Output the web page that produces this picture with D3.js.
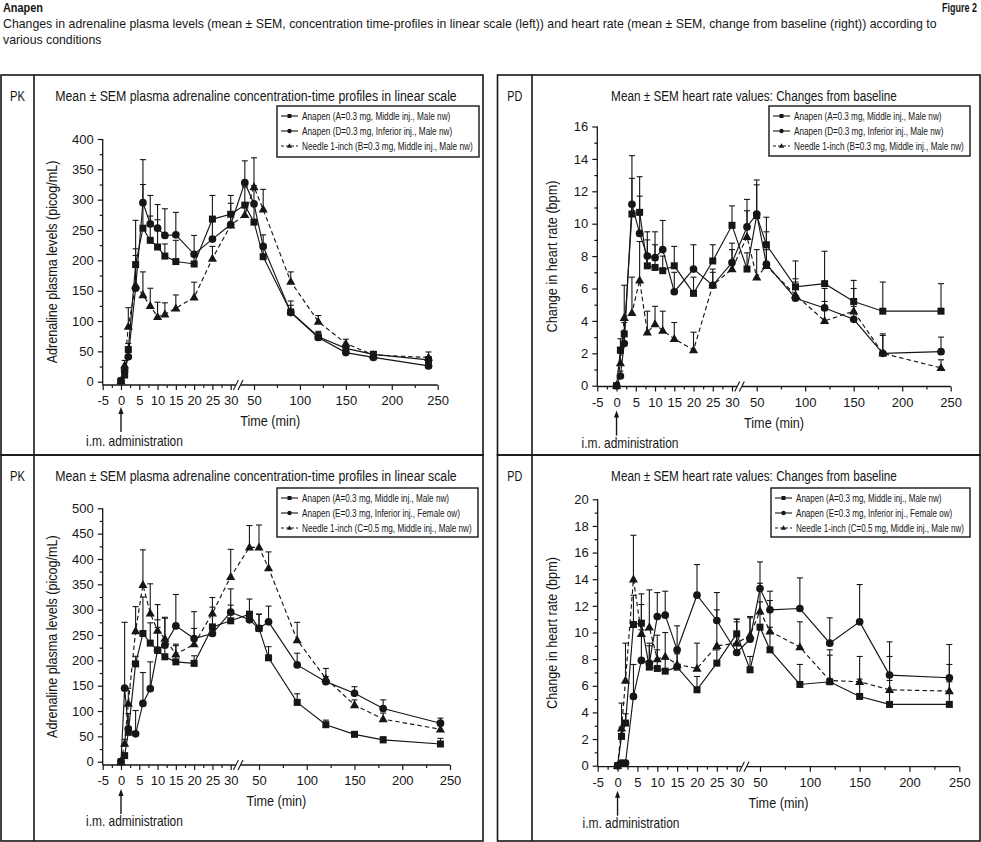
<!DOCTYPE html>
<html><head><meta charset="utf-8">
<script src="https://cdn.jsdelivr.net/npm/d3@7"></script>
<style>
body{margin:0;background:#fff;}
svg{display:block;}
</style></head><body>
<svg id="c" width="981" height="842"></svg>
<script>
// ---------------- data ----------------
const times = [0,1,2,4,6,8,10,12,15,20,25,30,40,50,60,90,120,150,180,240];
const xTicksLeft = [-5,0,5,10,15,20,25,30];
const xMinorLeft = [-2.5,2.5,7.5,12.5,17.5,22.5,27.5];
const xTicksRight = [50,100,150,200,250];
const xMinorRight = [75,125,175,225];
const pkTicksTop = [0,50,100,150,200,250,300,350,400];
const pkTicksBottom = [0,50,100,150,200,250,300,350,400,450,500];
const hrTicksTop = [0,2,4,6,8,10,12,14,16];
const hrTicksBottom = [0,2,4,6,8,10,12,14,16,18,20];

// top-left: PK, groups A / D / B
const pkA = [1,11,53,193,253,233,222,207,198,194,268,276,291,263,206,115,74,55,45,36];
const pkA_sem = [1,3,10,15,72,40,45,20,35,15,39,31,30,28,20,18,9,6,5,5];
const pkD = [2,18,41,154,295,260,253,241,242,210,235,259,328,293,223,114,73,48,40,26];
const pkD_sem = [1,5,8,112,71,47,39,44,37,31,30,35,36,30,19,12,8,6,5,5];
const pkB = [1,27,91,159,143,125,107,111,121,139,203,258,275,321,284,165,99,63,44,40];
const pkB_sem = [1,8,31,60,38,29,24,19,22,25,20,20,20,48,33,16,10,7,5,9];

// top-right: heart rate, groups A / D / B
const hrA = [0,2.2,3.2,10.6,10.7,7.4,7.3,7.1,7.4,5.7,7.7,9.9,7.2,10.5,8.7,6.1,6.3,5.2,4.6,4.6];
const hrA_sem = [0,0.7,0.7,2.2,2.2,1.6,1.4,0.9,1.2,1.0,1.0,1.2,1.0,1.9,1.7,1.6,2.0,1.3,1.8,1.7];
const hrD = [0,0.6,2.6,11.2,9.4,8.0,7.9,8.4,5.8,7.2,6.2,7.6,9.8,10.6,7.5,5.4,4.8,4.1,2.0,2.1];
const hrD_sem = [0,0.3,0.6,3.0,2.3,1.5,1.6,1.8,1.2,1.5,1.0,1.2,1.7,2.1,2.0,1.0,1.2,0.8,1.2,0.9];
const hrB = [0,1.4,4.2,4.5,6.5,3.3,3.8,3.4,2.9,2.2,6.2,7.2,9.2,6.7,7.4,5.6,4.0,4.6,2.0,1.1];
const hrB_sem = [0,0.6,2.0,2.2,2.4,1.3,1.1,1.2,1.0,1.1,0.8,1.2,1.6,1.7,1.0,1.0,1.2,1.4,1.1,0.5];

// bottom-left: PK, groups A / E / C
const pk2A = [0,12,58,193,253,234,220,207,197,194,266,278,291,263,205,117,73,54,43,35];
const pk2A_sem = [0,4,10,15,72,40,45,20,35,15,39,31,30,28,22,17,9,5,6,11];
const pk2E = [0,145,65,55,115,144,220,230,268,243,253,295,280,263,276,191,158,135,105,76];
const pk2E_sem = [0,130,30,46,61,53,60,55,62,53,10,46,15,28,31,23,10,13,17,10];
const pk2C = [0,36,115,258,349,293,259,243,212,232,293,365,423,423,382,240,164,112,84,64];
const pk2C_sem = [0,8,30,48,69,58,51,40,17,31,31,54,43,44,32,35,20,10,12,8];

// bottom-right: heart rate, groups A / E / C
const hr2A = [0,2.2,3.2,10.6,10.7,7.4,7.3,7.1,7.4,5.7,7.7,9.9,7.2,10.4,8.7,6.1,6.3,5.2,4.6,4.6];
const hr2A_sem = [0,0.7,0.7,2.2,2.2,1.6,1.4,0.9,1.2,1.0,1.0,1.1,1.0,1.9,1.7,1.5,2.0,1.3,1.8,1.7];
const hr2E = [0,0.2,0.2,5.2,7.9,7.7,11.2,11.3,8.7,12.8,10.9,8.5,9.5,13.3,11.7,11.8,9.2,10.8,6.8,6.6];
const hr2E_sem = [0,0.2,0.2,2.4,2.3,1.5,1.8,1.8,1.8,2.3,2.1,2.5,1.6,2.0,1.4,2.3,1.9,2.8,2.5,2.5];
const hr2C = [0,2.8,6.4,14.0,9.9,10.4,8.0,8.2,7.6,7.3,9.0,9.2,9.8,11.6,10.1,8.9,6.4,6.3,5.7,5.6];
const hr2C_sem = [0,1.9,2.8,3.3,2.2,2.8,1.8,1.8,0.8,1.9,2.7,1.6,1.4,2.1,2.3,1.9,2.3,1.9,2.5,2.0];

const legendTop = ["Anapen (A=0.3 mg, Middle inj., Male nw)","Anapen (D=0.3 mg, Inferior inj., Male nw)","Needle 1-inch (B=0.3 mg, Middle inj., Male nw)"];
const legendBottom = ["Anapen (A=0.3 mg, Middle inj., Male nw)","Anapen (E=0.3 mg, Inferior inj., Female ow)","Needle 1-inch (C=0.5 mg, Middle inj., Male nw)"];

const headerTitle = "Anapen";
const headerFig = "Figure 2";
const headerLine1 = "Changes in adrenaline plasma levels (mean \u00b1 SEM, concentration time-profiles in linear scale (left)) and heart rate (mean \u00b1 SEM, change from baseline (right)) according to";
const headerLine2 = "various conditions";
const pkTitle = "Mean \u00b1 SEM plasma adrenaline concentration-time profiles in linear scale";
const pdTitle = "Mean \u00b1 SEM heart rate values: Changes from baseline";
const pkYLabel = "Adrenaline plasma levels (picog/mL)";
const pdYLabel = "Change in heart rate (bpm)";
const xLabel = "Time (min)";
const arrowLabel = "i.m. administration";

// ---------------- drawing ----------------
const INK = "#161616";
const FONT = "'Liberation Sans',Arial,sans-serif";
const svg = d3.select("#c");

// text drawn inside a group that is squeezed horizontally (condensed typeface look)
// w: target width (px) or null; sx: explicit squeeze factor
function ctext(parent, x, y, size, str, opts){
  opts = opts || {};
  const g = parent.append("g");
  const t = g.append("text").attr("x",0).attr("y",0).attr("font-family",FONT).attr("font-size",size)
    .attr("fill",INK).attr("text-anchor",opts.anchor || "start").text(str);
  if (opts.bold) t.attr("font-weight","bold");
  if (opts.dy) t.attr("dy",opts.dy);
  const nat = t.node().getComputedTextLength();
  const sx = opts.sx != null ? opts.sx : (opts.w ? opts.w / nat : 1);
  g.attr("transform",`translate(${x},${y})${opts.rot ? ` rotate(${opts.rot})` : ""} scale(${sx},1)`);
  return {g, t, nat, sx};
}
function natWidth(parent, size, str, bold){
  const t = parent.append("text").attr("font-family",FONT).attr("font-size",size).text(str);
  if (bold) t.attr("font-weight","bold");
  const w = t.node().getComputedTextLength();
  t.remove();
  return w;
}

// header
ctext(svg, 3, 12, 13, headerTitle, {bold:true, w:40});
ctext(svg, 977, 12, 13, headerFig, {bold:true, w:35, anchor:"end"});
const hl = ctext(svg, 3, 28, 13.5, headerLine1, {w:934});
ctext(svg, 3, 44, 13.5, headerLine2, {sx:hl.sx});

function marker(g, shape, cx, cy, s){
  if (shape === "square"){
    g.append("rect").attr("x",cx-s/2).attr("y",cy-s/2).attr("width",s).attr("height",s).attr("fill",INK);
  } else if (shape === "circle"){
    g.append("circle").attr("cx",cx).attr("cy",cy).attr("r",s*0.55).attr("fill",INK);
  } else {
    const w = s*1.3, h = s*1.15;
    g.append("path").attr("d",`M${cx},${cy-h*0.6}L${cx+w/2},${cy+h*0.4}L${cx-w/2},${cy+h*0.4}Z`).attr("fill",INK);
  }
}

function drawPanel(p){
  const g = svg.append("g");
  const [bx0,by0,bx1,by1] = p.box;
  g.append("rect").attr("x",bx0).attr("y",by0).attr("width",bx1-bx0).attr("height",by1-by0)
    .attr("fill","none").attr("stroke",INK).attr("stroke-width",1.6);
  g.append("line").attr("x1",p.div).attr("x2",p.div).attr("y1",by0).attr("y2",by1)
    .attr("stroke",INK).attr("stroke-width",1.6);
  ctext(g, (bx0+p.div)/2, by0+26, 14, p.tag, {anchor:"middle", w:15});
  ctext(g, p.titleX, by0+26, 14.5, p.title, {anchor:"middle", w:p.titleW});

  // scales
  const xL = d3.scaleLinear().domain([-5,30]).range([p.xm5,p.x30]);
  const xR = d3.scaleLinear().domain([50,250]).range([p.x50,p.x250]);
  const x = t => t <= 35 ? xL(t) : xR(t);
  const y = d3.scaleLinear().domain([0,p.yMax]).range([p.y0,p.yTop]);
  const ax = p.xm5, ay = p.axisY;
  const fmt = d => String(d);

  // x axis
  const axG = g.append("g");
  axG.append("line").attr("x1",ax).attr("x2",p.x250).attr("y1",ay).attr("y2",ay).attr("stroke",INK).attr("stroke-width",1.3);
  const xa1 = axG.append("g").attr("transform",`translate(0,${ay})`)
    .call(d3.axisBottom(xL).tickValues(xTicksLeft).tickFormat(fmt).tickSize(5).tickSizeOuter(0).tickPadding(3));
  const xa2 = axG.append("g").attr("transform",`translate(0,${ay})`)
    .call(d3.axisBottom(xR).tickValues(xTicksRight).tickFormat(fmt).tickSize(5).tickSizeOuter(0).tickPadding(3));
  axG.append("g").attr("transform",`translate(0,${ay})`)
    .call(d3.axisBottom(xL).tickValues(xMinorLeft).tickSize(3).tickSizeOuter(0).tickFormat(""));
  axG.append("g").attr("transform",`translate(0,${ay})`)
    .call(d3.axisBottom(xR).tickValues(xMinorRight).tickSize(3).tickSizeOuter(0).tickFormat(""));
  // y axis
  axG.append("line").attr("x1",ax).attr("x2",ax).attr("y1",y(p.yMax)).attr("y2",ay).attr("stroke",INK).attr("stroke-width",1.3);
  axG.append("g").attr("transform",`translate(${ax},0)`)
    .call(d3.axisLeft(y).tickValues(p.yTicks).tickFormat(fmt).tickSize(5).tickSizeOuter(0).tickPadding(4));
  axG.append("g").attr("transform",`translate(${ax},0)`)
    .call(d3.axisLeft(y).tickValues(p.yMinor).tickSize(3).tickSizeOuter(0).tickFormat(""));
  axG.selectAll(".domain").remove();
  axG.selectAll(".tick line").attr("stroke",INK).attr("stroke-width",1.2);
  axG.selectAll(".tick text").attr("font-family",FONT).attr("font-size",13).attr("fill",INK);
  xa1.selectAll(".tick text").attr("dy","0.95em");
  xa2.selectAll(".tick text").attr("dy","0.95em");
  // axis break
  const bx = p.x30 + 7.5;
  axG.append("rect").attr("x",bx-2.5).attr("y",ay-2).attr("width",5).attr("height",4).attr("fill","#fff");
  [-2.3, 2.3].forEach(d => {
    axG.append("line").attr("x1",bx+d-2.5).attr("y1",ay+5).attr("x2",bx+d+2.5).attr("y2",ay-5)
      .attr("stroke",INK).attr("stroke-width",1.1);
  });

  // axis titles
  ctext(g, (ax+p.x250)/2, ay+41, 14, xLabel, {anchor:"middle", w:60});
  const ymid = (y(p.yMax)+ay)/2;
  ctext(g, p.ylabX, ymid, 14, p.ylab, {anchor:"middle", w:p.ylabW, rot:-90, dy:"0.35em"});

  // arrow for i.m. administration
  const x0 = xL(0);
  g.append("line").attr("x1",x0).attr("x2",x0).attr("y1",ay+p.arrowTop+5).attr("y2",ay+p.arrowTop+25)
    .attr("stroke",INK).attr("stroke-width",1.4);
  g.append("path").attr("d",`M${x0},${ay+p.arrowTop}L${x0+2.6},${ay+p.arrowTop+7}L${x0-2.6},${ay+p.arrowTop+7}Z`).attr("fill",INK);
  ctext(g, x0-35, ay+61, 14, arrowLabel, {w:97});

  // series
  const line = d3.line().x((d,i) => x(times[i])).y(d => y(d));
  const sG = g.append("g");
  p.series.forEach(s => {
    sG.append("path").datum(s.vals).attr("d",line).attr("fill","none").attr("stroke",INK)
      .attr("stroke-width",1.15).attr("stroke-dasharray",s.dash ? "4.5,3" : null);
  });
  p.series.forEach(s => {
    s.vals.forEach((v,i) => {
      const e = s.sem[i];
      if (!e) return;
      const xx = x(times[i]), y1 = y(v), y2 = y(v+e);
      sG.append("line").attr("x1",xx).attr("x2",xx).attr("y1",y1).attr("y2",y2).attr("stroke",INK).attr("stroke-width",1.1);
      sG.append("line").attr("x1",xx-3).attr("x2",xx+3).attr("y1",y2).attr("y2",y2).attr("stroke",INK).attr("stroke-width",1.1);
    });
  });
  p.series.forEach(s => {
    s.vals.forEach((v,i) => marker(sG, s.shape, x(times[i]), y(v), 7));
  });

  // legend
  const L = p.legend;
  const lg = g.append("g");
  lg.append("rect").attr("x",L.x).attr("y",L.y).attr("width",L.w).attr("height",L.h)
    .attr("fill","#fff").attr("stroke",INK).attr("stroke-width",1.4);
  const sx = (L.w - 31) / natWidth(lg, 10.5, p.legendLabels[2]);
  p.series.forEach((s,i) => {
    const ry = L.y + 10 + i*15;
    lg.append("line").attr("x1",L.x+4).attr("x2",L.x+21).attr("y1",ry).attr("y2",ry).attr("stroke",INK)
      .attr("stroke-width",1.1).attr("stroke-dasharray",s.dash ? "3,2" : null);
    marker(lg, s.shape, L.x+12.5, ry, 4);
    ctext(lg, L.x+25, ry+3.8, 10.5, p.legendLabels[i], {sx:sx});
  });
}

const panels = [
  { box:[1,75,483,455], div:34, tag:"PK", title:pkTitle, titleX:256, titleW:402,
    xm5:102.7, x30:230.7, x50:254, x250:437.7, y0:381.7, yTop:139, yMax:400, axisY:385,
    yTicks:pkTicksTop, yMinor:d3.range(25,400,50), ylab:pkYLabel, ylabX:52, ylabW:203, arrowTop:22,
    legend:{x:277,y:106,w:202,h:51}, legendLabels:legendTop,
    series:[{vals:pkA,sem:pkA_sem,shape:"square"},{vals:pkD,sem:pkD_sem,shape:"circle"},{vals:pkB,sem:pkB_sem,shape:"triangle",dash:true}] },
  { box:[497.5,75,980,455], div:532, tag:"PD", title:pdTitle, titleX:754, titleW:286,
    xm5:597.3, x30:732, x50:756.7, x250:950.7, y0:385.7, yTop:126.5, yMax:16, axisY:386.5,
    yTicks:hrTicksTop, yMinor:d3.range(1,16,2), ylab:pdYLabel, ylabX:552, ylabW:152, arrowTop:24,
    legend:{x:769,y:106,w:201,h:50}, legendLabels:legendTop,
    series:[{vals:hrA,sem:hrA_sem,shape:"square"},{vals:hrD,sem:hrD_sem,shape:"circle"},{vals:hrB,sem:hrB_sem,shape:"triangle",dash:true}] },
  { box:[1,455,483,841], div:34, tag:"PK", title:pkTitle, titleX:256, titleW:402,
    xm5:102.7, x30:230.7, x50:259, x250:450, y0:761.7, yTop:508.3, yMax:500, axisY:765,
    yTicks:pkTicksBottom, yMinor:d3.range(25,500,50), ylab:pkYLabel, ylabX:52, ylabW:203, arrowTop:24,
    legend:{x:277,y:488,w:201,h:49}, legendLabels:legendBottom,
    series:[{vals:pk2A,sem:pk2A_sem,shape:"square"},{vals:pk2E,sem:pk2E_sem,shape:"circle"},{vals:pk2C,sem:pk2C_sem,shape:"triangle",dash:true}] },
  { box:[497.5,455,980,841], div:532, tag:"PD", title:pdTitle, titleX:754, titleW:286,
    xm5:597.7, x30:736.7, x50:760, x250:959.3, y0:765.7, yTop:499.3, yMax:20, axisY:766.7,
    yTicks:hrTicksBottom, yMinor:d3.range(1,20,2), ylab:pdYLabel, ylabX:552, ylabW:152, arrowTop:24,
    legend:{x:771,y:488,w:199,h:49}, legendLabels:legendBottom,
    series:[{vals:hr2A,sem:hr2A_sem,shape:"square"},{vals:hr2E,sem:hr2E_sem,shape:"circle"},{vals:hr2C,sem:hr2C_sem,shape:"triangle",dash:true}] }
];
panels.forEach(drawPanel);
</script>
</body></html>
